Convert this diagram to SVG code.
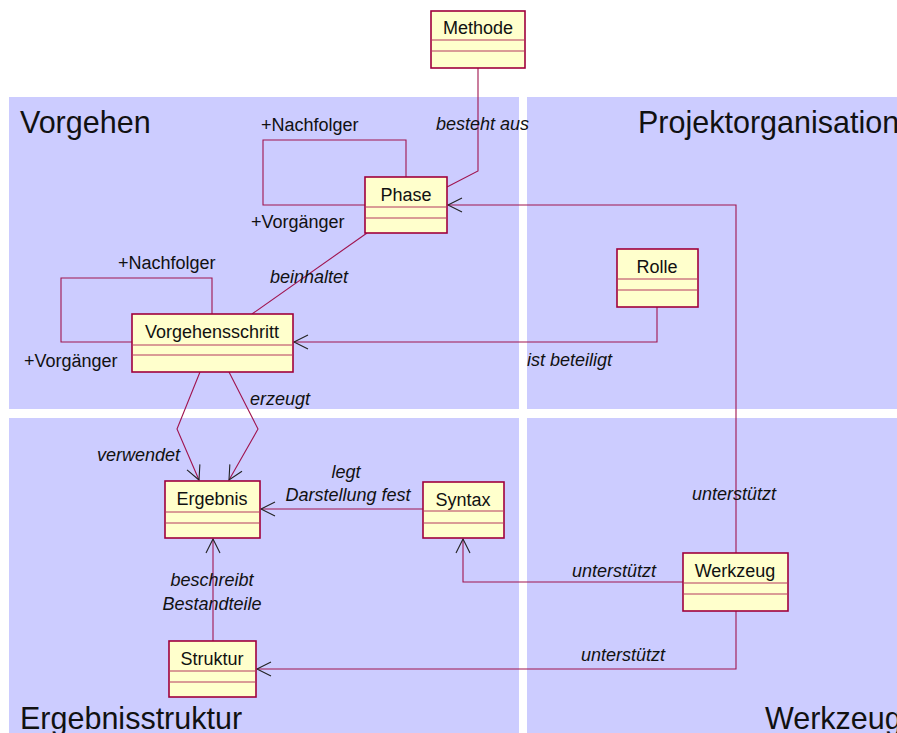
<svg xmlns="http://www.w3.org/2000/svg" width="897" height="733" viewBox="0 0 897 733">
  <style>
    .panel { fill: #ccccff; }
    .title { font-family: "Liberation Sans", Arial, sans-serif; font-size: 30.5px; fill: #111; }
    .box { fill: #ffffcc; stroke: #a0003c; stroke-width: 1.6; }
    .sep { stroke: #b5385e; stroke-width: 1; }
    .name { font-family: "Liberation Sans", Arial, sans-serif; font-size: 18px; fill: #111; text-anchor: middle; }
    .conn { fill: none; stroke: #a0144f; stroke-width: 1.1; }
    .lbl { font-family: "Liberation Sans", Arial, sans-serif; font-size: 18px; fill: #111; }
    .it { font-style: italic; }
  </style>
  <defs>
    <marker id="open" markerUnits="userSpaceOnUse" viewBox="-15 -10 20 20" refX="0" refY="0" markerWidth="20" markerHeight="20" orient="auto">
      <path d="M -14 -7 L 0 0 L -14 7" fill="none" stroke="#222" stroke-width="1.1"/>
    </marker>
  </defs>

  <rect width="897" height="733" fill="#ffffff"/>

  <!-- quadrants -->
  <g id="panels">
    <rect class="panel" x="9" y="97" width="510" height="312"/>
    <rect class="panel" x="527" y="97" width="370" height="312"/>
    <rect class="panel" x="9" y="418" width="510" height="315"/>
    <rect class="panel" x="527" y="418" width="370" height="315"/>
    <text class="title" x="20" y="133">Vorgehen</text>
    <text class="title" x="638" y="133">Projektorganisation</text>
    <text class="title" x="20" y="729">Ergebnisstruktur</text>
    <text class="title" x="765" y="729">Werkzeug</text>
  </g>

  <!-- associations -->
  <g id="connectors">
    <!-- Methode - Phase -->
    <polyline class="conn" points="478,68 478,171 447,187"/>
    <text class="lbl it" x="436" y="130">besteht aus</text>
    <!-- Phase self association -->
    <polyline class="conn" points="406,177 406,140 263,140 263,205 365,205"/>
    <text class="lbl" x="261" y="131">+Nachfolger</text>
    <text class="lbl" x="251" y="228">+Vorgänger</text>
    <!-- Phase - Vorgehensschritt -->
    <line class="conn" x1="367" y1="233" x2="252" y2="314"/>
    <text class="lbl it" x="270" y="283">beinhaltet</text>
    <!-- Vorgehensschritt self association -->
    <polyline class="conn" points="212,314 212,278 61,278 61,342 132,342"/>
    <text class="lbl" x="118" y="269">+Nachfolger</text>
    <text class="lbl" x="24" y="367">+Vorgänger</text>
    <!-- Werkzeug - Phase -->
    <polyline class="conn" points="736,553 736,205 448,205" marker-end="url(#open)"/>
    <text class="lbl it" x="692" y="500">unterstützt</text>
    <!-- Rolle - Vorgehensschritt -->
    <polyline class="conn" points="657,307 657,342 294,342" marker-end="url(#open)"/>
    <text class="lbl it" x="527" y="366">ist beteiligt</text>
    <!-- Vorgehensschritt - Ergebnis -->
    <polyline class="conn" points="200,372 177,429 199,480" marker-end="url(#open)"/>
    <text class="lbl it" x="97" y="461">verwendet</text>
    <polyline class="conn" points="229,372 258,429 229,480" marker-end="url(#open)"/>
    <text class="lbl it" x="250" y="405">erzeugt</text>
    <!-- Syntax - Ergebnis -->
    <line class="conn" x1="423" y1="509" x2="261" y2="509" marker-end="url(#open)"/>
    <text class="lbl it" x="346" y="478" text-anchor="middle">legt</text>
    <text class="lbl it" x="348" y="501" text-anchor="middle">Darstellung fest</text>
    <!-- Werkzeug - Syntax -->
    <polyline class="conn" points="683,582 463,582 463,539" marker-end="url(#open)"/>
    <text class="lbl it" x="572" y="577">unterstützt</text>
    <!-- Werkzeug - Struktur -->
    <polyline class="conn" points="736,611 736,669 257,669" marker-end="url(#open)"/>
    <text class="lbl it" x="581" y="661">unterstützt</text>
    <!-- Struktur - Ergebnis -->
    <line class="conn" x1="213" y1="641" x2="213" y2="539" marker-end="url(#open)"/>
    <text class="lbl it" x="212" y="586" text-anchor="middle">beschreibt</text>
    <text class="lbl it" x="212" y="610" text-anchor="middle">Bestandteile</text>
  </g>

  <!-- classes -->
  <g id="methode">
    <rect class="box" x="431" y="11" width="94" height="57"/>
    <line class="sep" x1="431" y1="40" x2="525" y2="40"/>
    <line class="sep" x1="431" y1="51" x2="525" y2="51"/>
    <text class="name" x="478" y="34">Methode</text>
  </g>
  <g id="phase">
    <rect class="box" x="365" y="177" width="82" height="56"/>
    <line class="sep" x1="365" y1="207" x2="447" y2="207"/>
    <line class="sep" x1="365" y1="218" x2="447" y2="218"/>
    <text class="name" x="406" y="201">Phase</text>
  </g>
  <g id="vorgehensschritt">
    <rect class="box" x="132" y="314" width="161" height="58"/>
    <line class="sep" x1="132" y1="345" x2="293" y2="345"/>
    <line class="sep" x1="132" y1="355" x2="293" y2="355"/>
    <text class="name" x="212" y="338">Vorgehensschritt</text>
  </g>
  <g id="rolle">
    <rect class="box" x="617" y="249" width="81" height="58"/>
    <line class="sep" x1="617" y1="279" x2="698" y2="279"/>
    <line class="sep" x1="617" y1="290" x2="698" y2="290"/>
    <text class="name" x="657" y="273">Rolle</text>
  </g>
  <g id="ergebnis">
    <rect class="box" x="165" y="481" width="95" height="57"/>
    <line class="sep" x1="165" y1="512" x2="260" y2="512"/>
    <line class="sep" x1="165" y1="523" x2="260" y2="523"/>
    <text class="name" x="212" y="505">Ergebnis</text>
  </g>
  <g id="syntax">
    <rect class="box" x="423" y="482" width="81" height="56"/>
    <line class="sep" x1="423" y1="511" x2="504" y2="511"/>
    <line class="sep" x1="423" y1="523" x2="504" y2="523"/>
    <text class="name" x="463" y="506">Syntax</text>
  </g>
  <g id="struktur">
    <rect class="box" x="169" y="641" width="87" height="56"/>
    <line class="sep" x1="169" y1="671" x2="256" y2="671"/>
    <line class="sep" x1="169" y1="682" x2="256" y2="682"/>
    <text class="name" x="212" y="665">Struktur</text>
  </g>
  <g id="werkzeug">
    <rect class="box" x="683" y="553" width="105" height="58"/>
    <line class="sep" x1="683" y1="583" x2="788" y2="583"/>
    <line class="sep" x1="683" y1="594" x2="788" y2="594"/>
    <text class="name" x="735" y="577">Werkzeug</text>
  </g>
</svg>
